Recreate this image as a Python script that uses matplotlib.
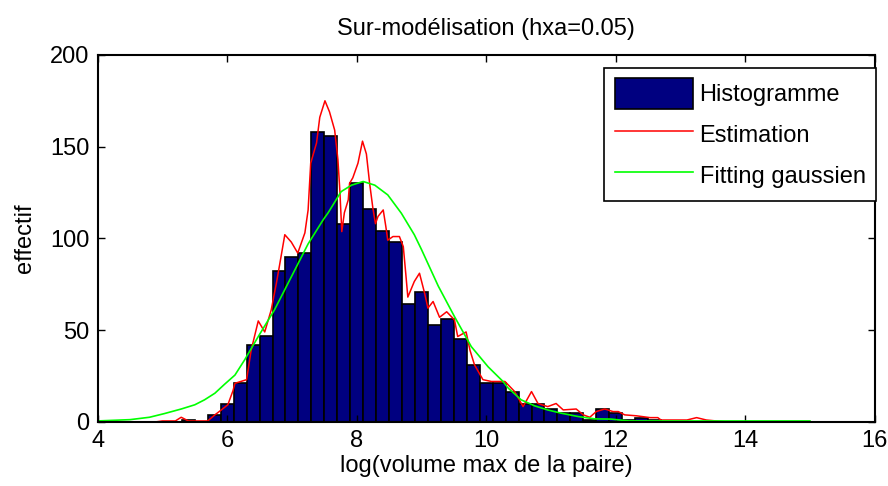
import numpy as np
import matplotlib
matplotlib.use("Agg")
import matplotlib.pyplot as plt

plt.rcParams['font.family'] = ['Liberation Sans', 'DejaVu Sans']

# histogram bins (centres, width 0.2) and counts
bin_centres = [5.4, 5.6, 5.8, 6.0, 6.2, 6.4, 6.6, 6.8, 7.0, 7.2, 7.4, 7.6, 7.8, 8.0,
               8.2, 8.4, 8.6, 8.8, 9.0, 9.2, 9.4, 9.6, 9.8, 10.0, 10.2, 10.4, 10.6,
               10.8, 11.0, 11.2, 11.4, 11.6, 11.8, 12.0, 12.2, 12.4, 12.6]
counts = [1, 0, 4, 10, 21, 42, 47, 82, 90, 92, 158, 156, 108, 130,
          116, 104, 98, 64, 71, 53, 56, 45, 31, 21, 21, 16, 10,
          10, 7, 5, 5, 1, 7, 5, 1, 2, 1]

# red "Estimation" curve
est_x = [4.0, 4.9, 5.0, 5.2, 5.29, 5.4, 5.7, 5.81, 5.91, 6.01, 6.09, 6.12, 6.30, 6.37,
         6.48, 6.58, 6.68, 6.76, 6.81, 6.89, 6.99, 7.09, 7.20, 7.25, 7.29, 7.38, 7.43,
         7.51, 7.58, 7.66, 7.71, 7.74, 7.77, 7.81, 7.87, 7.89, 7.94, 8.02, 8.09, 8.15,
         8.20, 8.25, 8.29, 8.33, 8.41, 8.45, 8.48, 8.56, 8.66, 8.72, 8.76, 8.79, 8.89,
         8.97, 9.05, 9.10, 9.18, 9.28, 9.39, 9.51, 9.56, 9.69, 9.75, 9.82, 9.95, 10.08,
         10.23, 10.29, 10.44, 10.57, 10.70, 10.80, 10.95, 11.08, 11.19, 11.39, 11.50,
         11.60, 11.70, 11.83, 11.96, 12.04, 12.14, 12.32, 12.53, 12.65, 12.70, 13.1,
         13.25, 13.40, 13.7, 15.0]
est_y = [0, 0, 0.5, 0.5, 2.5, 0.5, 0.5, 3.8, 6.5, 9.3, 17, 21, 23, 39,
         55, 49, 61, 75.6, 85.6, 102, 98, 92, 103, 115.5, 141, 152, 166,
         175, 169, 159, 143, 126, 103.7, 114, 121, 130, 133, 141, 153, 146,
         130, 116.5, 108, 112, 115.5, 106.5, 99, 101, 101, 95.5, 80, 68, 76.5,
         81, 70, 62, 65.6, 57, 60, 55.6, 46.5, 49, 39, 31, 23, 22,
         22, 22, 16.5, 8.3, 16.5, 10, 8.3, 10, 6.5, 7, 3.8,
         2.5, 5.6, 7, 5.6, 5.6, 3.8, 3.3, 2.3, 2.3, 1, 1,
         2.3, 1, 0, 0]

# green "Fitting gaussien" curve
fit_x = [4.0, 4.5, 4.8, 5.03, 5.29, 5.50, 5.65, 5.81, 5.96, 6.12, 6.27, 6.48, 6.73,
         6.99, 7.25, 7.48, 7.56, 7.76, 7.92, 8.10, 8.28, 8.48, 8.69, 8.89, 9.0,
         9.26, 9.51, 9.77, 10.03, 10.26, 10.34, 10.54, 10.75, 10.95, 11.16, 11.42,
         11.68, 11.93, 12.2, 15.0]
fit_y = [0.5, 1.2, 2.5, 4.5, 7, 9.3, 12, 15.6, 20.5, 25.5, 33.8, 46.5, 61,
         79, 97, 110, 114, 125.5, 129, 131, 129, 123.7, 113.7, 102, 94,
         74, 57.4, 41, 30, 22, 18.4, 12, 8.7, 6.5, 4.7, 2.9,
         1.6, 1.5, 0.5, 0.5]

fig = plt.figure(figsize=(8.88, 4.86), dpi=100)
ax = fig.add_axes([0.110, 0.132, 0.875, 0.755])

bars = ax.bar(bin_centres, counts, width=0.2, color='#000080', edgecolor='black',
              linewidth=1.2, label='Histogramme')
l_est, = ax.plot(est_x, est_y, color='#ff0000', lw=1.1, label='Estimation')
l_fit, = ax.plot(fit_x, fit_y, color='#00ff00', lw=1.2, label='Fitting gaussien')

ax.set_xlim(4, 16)
ax.set_ylim(0, 200)
ax.set_xticks(np.arange(4, 17, 2))
ax.set_yticks(np.arange(0, 201, 50))
ax.tick_params(direction='in', top=True, right=True, labelsize=17, length=5,
               width=1, colors='black', pad=6)
for s in ax.spines.values():
    s.set_linewidth(1.5)

ax.set_title('Sur-modélisation (hxa=0.05)', fontsize=17, pad=14)
ax.set_xlabel('log(volume max de la paire)', fontsize=17, labelpad=2)
ax.set_ylabel('effectif', fontsize=17, labelpad=10)

leg = ax.legend([bars, l_est, l_fit], ['Histogramme', 'Estimation', 'Fitting gaussien'],
                loc='upper right', bbox_to_anchor=(1.002, 0.965), fontsize=17,
                frameon=True, fancybox=False, edgecolor='black', framealpha=1,
                borderaxespad=0, handlelength=3.3, handleheight=1.6,
                labelspacing=0.45, borderpad=0.45, handletextpad=0.3)
leg.get_frame().set_linewidth(1.2)

fig.savefig('out.png', dpi=100)
